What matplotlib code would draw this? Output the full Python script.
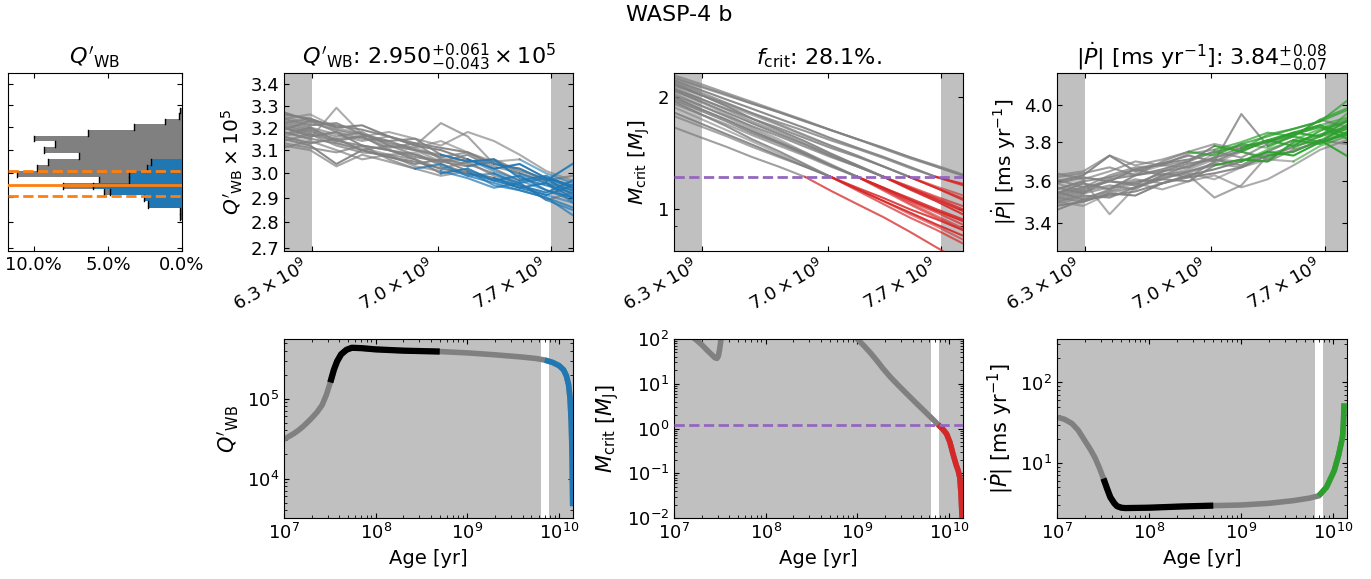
import matplotlib
matplotlib.use("Agg")
import matplotlib.pyplot as plt
from matplotlib.ticker import NullLocator, NullFormatter, PercentFormatter

plt.rcParams['font.family'] = ['DejaVu Sans']
plt.rcParams['mathtext.fontset'] = 'dejavusans'

# ------------------------------------------------------------------ data
TITLE = "WASP-4 b"

AGE_GRID = [6.15e9, 6.29e9, 6.43e9, 6.57e9, 6.72e9, 6.87e9,
            7.02e9, 7.18e9, 7.34e9, 7.50e9, 7.67e9, 7.84e9]
AGE_RANGE = (6.3e9, 7.7e9)
TOP_XTICKS = [6.3e9, 7.0e9, 7.7e9]
TOP_XTICKLABELS = [r'$6.3\times10^{9}$', r'$7.0\times10^{9}$', r'$7.7\times10^{9}$']

# index of the grid point where each sample becomes "critical" (11 = never)
CRIT_START = [5, 6, 6, 6, 7, 7, 7, 8, 8, 8, 9, 9, 10, 10, 11, 11,
              6, 7, 7, 8, 9, 11]

Q_SAMPLES = [
    [3.13, 3.11, 3.09, 3.12, 3.06, 3.02, 3.04, 2.99, 2.96, 2.93, 2.90, 2.86],
    [3.20, 3.16, 3.18, 3.12, 3.10, 3.06, 3.00, 3.02, 2.97, 2.94, 2.96, 2.90],
    [3.16, 3.19, 3.13, 3.11, 3.08, 3.09, 3.03, 2.99, 3.00, 2.95, 2.91, 2.88],
    [3.24, 3.21, 3.22, 3.17, 3.14, 3.15, 3.08, 3.05, 3.06, 2.98, 2.95, 2.92],
    [3.12, 3.10, 3.03, 3.08, 3.05, 3.02, 2.99, 3.01, 2.95, 2.93, 2.90, 2.83],
    [3.26, 3.24, 3.20, 3.21, 3.16, 3.12, 3.10, 3.06, 3.02, 3.04, 2.98, 2.95],
    [3.18, 3.15, 3.29, 3.17, 3.12, 3.10, 3.05, 3.06, 3.01, 2.97, 2.93, 2.89],
    [3.21, 3.18, 3.15, 3.16, 3.11, 3.13, 3.06, 3.04, 3.00, 2.96, 2.98, 2.91],
    [3.15, 3.12, 3.04, 3.10, 3.07, 3.05, 3.02, 3.00, 2.98, 2.94, 2.91, 2.95],
    [3.23, 3.20, 3.17, 3.14, 3.16, 3.12, 3.22, 3.16, 3.04, 3.02, 2.97, 2.93],
    [3.17, 3.20, 3.14, 3.12, 3.10, 3.07, 3.05, 3.08, 3.02, 2.97, 2.99, 2.94],
    [3.25, 3.22, 3.19, 3.17, 3.13, 3.11, 3.14, 3.09, 3.05, 3.06, 3.00, 2.96],
    [3.19, 3.23, 3.18, 3.15, 3.14, 3.10, 3.08, 3.05, 3.06, 3.01, 2.98, 2.94],
    [3.27, 3.23, 3.21, 3.19, 3.16, 3.13, 3.11, 3.09, 3.04, 3.02, 2.97, 3.04],
    [3.22, 3.24, 3.19, 3.16, 3.18, 3.15, 3.12, 3.18, 3.14, 3.08, 3.01, 2.97],
    [3.14, 3.17, 3.12, 3.09, 3.08, 3.06, 3.02, 3.05, 2.99, 2.96, 2.89, 2.92],
    [3.11, 3.14, 3.10, 3.06, 3.08, 3.03, 3.01, 2.98, 2.94, 2.96, 2.89, 2.85],
    [3.20, 3.17, 3.14, 3.16, 3.10, 3.08, 3.04, 3.00, 2.97, 2.99, 2.93, 2.90],
    [3.24, 3.26, 3.20, 3.17, 3.13, 3.11, 3.07, 3.03, 3.05, 2.99, 2.96, 2.88],
    [3.16, 3.13, 3.15, 3.10, 3.07, 3.04, 3.06, 3.01, 2.98, 2.95, 2.92, 2.97],
    [3.22, 3.19, 3.16, 3.18, 3.12, 3.10, 3.07, 3.09, 3.03, 3.00, 2.96, 2.93],
    [3.18, 3.15, 3.13, 3.10, 3.12, 3.08, 3.05, 3.03, 3.06, 3.00, 2.97, 2.99],
]

M_SAMPLES = [
    [1.66, 1.56, 1.47, 1.38, 1.30, 1.22, 1.12, 1.03, 0.95, 0.87, 0.79, 0.72],
    [1.82, 1.70, 1.59, 1.49, 1.39, 1.30, 1.22, 1.13, 1.05, 0.98, 0.91, 0.85],
    [1.88, 1.75, 1.63, 1.52, 1.41, 1.31, 1.22, 1.13, 1.05, 0.97, 0.90, 0.83],
    [1.95, 1.80, 1.67, 1.54, 1.43, 1.32, 1.22, 1.14, 1.07, 1.00, 0.94, 0.88],
    [1.92, 1.80, 1.69, 1.58, 1.48, 1.39, 1.30, 1.22, 1.13, 1.05, 0.98, 0.91],
    [2.00, 1.86, 1.74, 1.62, 1.51, 1.41, 1.31, 1.22, 1.14, 1.06, 0.99, 0.93],
    [2.05, 1.90, 1.77, 1.64, 1.52, 1.42, 1.31, 1.22, 1.12, 1.03, 0.95, 0.88],
    [2.02, 1.90, 1.78, 1.67, 1.57, 1.47, 1.38, 1.30, 1.22, 1.14, 1.07, 1.00],
    [2.08, 1.95, 1.82, 1.70, 1.59, 1.49, 1.39, 1.30, 1.22, 1.13, 1.05, 0.97],
    [2.12, 1.98, 1.85, 1.72, 1.61, 1.50, 1.40, 1.31, 1.22, 1.15, 1.08, 1.02],
    [2.10, 1.98, 1.86, 1.75, 1.65, 1.55, 1.46, 1.38, 1.30, 1.22, 1.14, 1.06],
    [2.16, 2.03, 1.90, 1.79, 1.68, 1.57, 1.48, 1.39, 1.30, 1.22, 1.15, 1.09],
    [2.15, 2.03, 1.92, 1.81, 1.71, 1.62, 1.53, 1.45, 1.37, 1.29, 1.22, 1.16],
    [2.22, 2.09, 1.97, 1.86, 1.75, 1.65, 1.55, 1.46, 1.38, 1.30, 1.22, 1.17],
    [2.24, 2.13, 2.02, 1.92, 1.82, 1.72, 1.63, 1.54, 1.46, 1.38, 1.30, 1.235],
    [2.29, 2.17, 2.05, 1.94, 1.83, 1.73, 1.63, 1.54, 1.45, 1.37, 1.30, 1.23],
    [1.78, 1.67, 1.57, 1.47, 1.38, 1.30, 1.22, 1.12, 1.03, 0.95, 0.88, 0.81],
    [1.97, 1.84, 1.72, 1.60, 1.50, 1.40, 1.31, 1.22, 1.14, 1.07, 1.00, 0.94],
    [2.10, 1.94, 1.80, 1.66, 1.54, 1.42, 1.32, 1.22, 1.13, 1.04, 0.96, 0.89],
    [2.18, 2.03, 1.89, 1.75, 1.63, 1.52, 1.41, 1.31, 1.22, 1.14, 1.06, 0.99],
    [2.20, 2.06, 1.93, 1.81, 1.69, 1.58, 1.48, 1.39, 1.30, 1.22, 1.14, 1.07],
    [2.26, 2.14, 2.03, 1.92, 1.82, 1.72, 1.63, 1.54, 1.46, 1.38, 1.31, 1.24],
]

P_SAMPLES = [
    [3.62, 3.64, 3.67, 3.63, 3.70, 3.75, 3.73, 3.79, 3.83, 3.87, 3.91, 3.97],
    [3.54, 3.59, 3.56, 3.63, 3.66, 3.70, 3.78, 3.75, 3.81, 3.85, 3.83, 3.91],
    [3.59, 3.55, 3.62, 3.64, 3.68, 3.67, 3.74, 3.79, 3.77, 3.84, 3.89, 3.93],
    [3.50, 3.53, 3.52, 3.57, 3.61, 3.60, 3.68, 3.71, 3.70, 3.80, 3.84, 3.88],
    [3.63, 3.65, 3.73, 3.68, 3.71, 3.75, 3.79, 3.76, 3.84, 3.87, 3.91, 4.02],
    [3.48, 3.50, 3.54, 3.53, 3.59, 3.63, 3.66, 3.70, 3.75, 3.73, 3.80, 3.84],
    [3.56, 3.60, 3.44, 3.57, 3.63, 3.66, 3.71, 3.70, 3.76, 3.81, 3.87, 3.92],
    [3.53, 3.56, 3.60, 3.59, 3.64, 3.62, 3.70, 3.95, 3.78, 3.83, 3.80, 3.89],
    [3.60, 3.63, 3.73, 3.65, 3.69, 3.71, 3.75, 3.78, 3.80, 3.85, 3.89, 3.84],
    [3.51, 3.54, 3.57, 3.61, 3.59, 3.63, 3.52, 3.58, 3.73, 3.75, 3.81, 3.87],
    [3.57, 3.54, 3.61, 3.63, 3.65, 3.69, 3.71, 3.68, 3.75, 3.81, 3.79, 3.85],
    [3.49, 3.52, 3.55, 3.57, 3.62, 3.64, 3.61, 3.67, 3.71, 3.70, 3.78, 3.83],
    [3.55, 3.51, 3.56, 3.60, 3.61, 3.65, 3.68, 3.71, 3.70, 3.76, 3.80, 3.85],
    [3.46, 3.51, 3.53, 3.55, 3.59, 3.62, 3.64, 3.67, 3.73, 3.75, 3.81, 3.73],
    [3.52, 3.50, 3.55, 3.59, 3.56, 3.60, 3.63, 3.57, 3.61, 3.68, 3.76, 3.81],
    [3.61, 3.57, 3.63, 3.67, 3.68, 3.70, 3.75, 3.72, 3.79, 3.83, 3.92, 3.88],
    [3.64, 3.61, 3.65, 3.70, 3.68, 3.74, 3.76, 3.80, 3.85, 3.83, 3.92, 3.98],
    [3.54, 3.57, 3.60, 3.58, 3.65, 3.67, 3.72, 3.77, 3.81, 3.78, 3.86, 3.91],
    [3.50, 3.48, 3.54, 3.57, 3.62, 3.64, 3.69, 3.75, 3.72, 3.79, 3.83, 3.95],
    [3.59, 3.62, 3.60, 3.66, 3.69, 3.73, 3.70, 3.76, 3.80, 3.84, 3.88, 3.82],
    [3.52, 3.55, 3.58, 3.56, 3.63, 3.65, 3.69, 3.67, 3.74, 3.77, 3.83, 3.87],
    [3.56, 3.60, 3.62, 3.66, 3.63, 3.68, 3.72, 3.75, 3.71, 3.78, 3.81, 3.79],
]

M_PLANET = 1.22
Q_MED, Q_HI, Q_LO = 2.950, 3.011, 2.907

HIST_EDGES = [2.8082, 2.8335, 2.8587, 2.8840, 2.9093, 2.9346, 2.9598, 2.9851,
              3.0104, 3.0356, 3.0609, 3.0862, 3.1115, 3.1367, 3.1620, 3.1873,
              3.2125, 3.2378, 3.2631, 3.2884]
HIST_ALL = [0, 0, 0, 0, 5.23, 8.06, 5.63, 11.15, 9.75, 9.01, 6.98, 9.32,
            8.60, 9.96, 6.31, 3.27, 1.17, 0.18, 0.11]
HIST_CRIT = [0.16, 0.11, 2.30, 2.59, 4.84, 6.01, 3.60, 3.60, 2.36, 2.07,
             0, 0, 0, 0, 0, 0, 0, 0, 0]

Q_BOT_AGE = [1.0e7, 1.15e7, 1.3e7, 1.45e7, 1.62e7, 1.8e7, 2.0e7, 2.3e7, 2.6e7,
             2.9e7, 3.2e7, 3.5e7, 3.8e7, 4.2e7, 4.8e7, 5.5e7, 7.0e7, 1.0e8,
             2.0e8, 5.0e8, 1.0e9, 2.0e9, 3.7e9, 5.5e9, 7.0e9, 8.5e9, 1.0e10,
             1.12e10, 1.2e10, 1.27e10, 1.32e10, 1.36e10, 1.39e10, 1.41e10]
Q_BOT_VAL = [3.1e4, 3.4e4, 3.7e4, 4.05e4, 4.5e4, 5.05e4, 5.7e4, 6.8e4, 8.3e4,
             1.12e5, 1.6e5, 2.3e5, 2.95e5, 3.6e5, 4.1e5, 4.35e5, 4.3e5, 4.15e5,
             4.0e5, 3.9e5, 3.75e5, 3.55e5, 3.35e5, 3.2e5, 3.05e5, 2.85e5, 2.6e5,
             2.3e5, 1.95e5, 1.5e5, 1.0e5, 5.0e4, 1.8e4, 4.5e3]

M_BOT_AGE1 = [1.5e7, 1.7e7, 2.0e7, 2.3e7, 2.6e7, 2.8e7, 2.95e7, 3.05e7, 3.15e7, 3.25e7, 3.35e7]
M_BOT_VAL1 = [120, 100, 75, 56, 44, 38, 37, 42, 60, 95, 140]
M_BOT_AGE2 = [8.5e8, 1.0e9, 1.2e9, 1.4e9, 1.65e9, 1.9e9, 2.3e9, 2.8e9, 3.45e9,
              4.5e9, 5.5e9, 6.2e9, 7.0e9, 7.6e9, 8.5e9, 9.4e9, 1.02e10, 1.11e10,
              1.2e10, 1.26e10, 1.31e10, 1.35e10, 1.38e10, 1.40e10]
M_BOT_VAL2 = [140, 100, 68, 48, 32, 22, 14, 9.2, 6.0, 3.5, 2.35, 1.85, 1.45,
              1.22, 0.98, 0.76, 0.50, 0.26, 0.15, 0.114, 0.08, 0.035, 0.013, 0.006]

P_BOT_AGE = [1.0e7, 1.2e7, 1.45e7, 1.7e7, 2.0e7, 2.3e7, 2.6e7, 2.9e7, 3.2e7,
             3.5e7, 3.8e7, 4.2e7, 4.5e7, 5.0e7, 5.5e7, 1.0e8, 2.3e8, 5.0e8,
             1.0e9, 2.0e9, 3.7e9, 5.5e9, 7.0e9, 8.5e9, 1.03e10, 1.15e10,
             1.27e10, 1.30e10, 1.32e10]
P_BOT_VAL = [37, 35, 31, 25.5, 19, 14.8, 11.5, 8.6, 6.4, 4.8, 3.75, 3.15, 2.9,
             2.78, 2.75, 2.78, 2.88, 2.95, 3.0, 3.15, 3.4, 3.65, 3.9, 5.0, 8.0,
             12.5, 21, 32, 55]

BLACK_AGES = (3.2e7, 5.0e8)
CRIT_AGE_QP = 7.0e9
CRIT_AGE_M = 7.6e9

# ------------------------------------------------------------------ style / layout
XLIM_TOP = (6.153e9, 7.844e9)
XLIM_BOT = (1e7, 1.42e10)
ALPHAS = [0.75, 0.9, 0.6, 0.85, 0.7, 0.95, 0.65, 0.8, 0.9, 0.7, 0.85, 0.6,
          0.8, 0.9, 0.65, 0.75, 0.7, 0.85, 0.6, 0.9, 0.75, 0.8]
BAND = 'silver'
TICK_FS = 13
TITLE_FS = 16
TOP_YLABEL_FS = 14.5
BOT_LABEL_FS = 15

W, H = 1371, 579
fig = plt.figure(figsize=(W / 100, H / 100), dpi=100)


def px_rect(x0, y0, x1, y1):
    return [x0 / W, 1 - y1 / H, (x1 - x0) / W, (y1 - y0) / H]


def style(ax):
    ax.tick_params(which='both', direction='in', top=True, right=True,
                   labelsize=TICK_FS)


def top_panel(ax, samples, color, ylim, yticks, yticklabels, ylabel, title):
    ax.set_xscale('log')
    ax.set_yscale('log')
    ax.axvspan(XLIM_TOP[0], AGE_RANGE[0], color=BAND, lw=0, zorder=0)
    ax.axvspan(AGE_RANGE[1], XLIM_TOP[1], color=BAND, lw=0, zorder=0)
    n = len(AGE_GRID)
    for vals, s, a in zip(samples, CRIT_START, ALPHAS):
        ax.plot(AGE_GRID[:s + 1], vals[:s + 1], color='gray', alpha=a, lw=1.5, zorder=2)
    for vals, s, a in zip(samples, CRIT_START, ALPHAS):
        if s < n - 1:
            ax.plot(AGE_GRID[s:], vals[s:], color=color, alpha=a, lw=1.5, zorder=3)
    ax.set_xlim(XLIM_TOP)
    ax.set_ylim(ylim)
    ax.set_xticks(TOP_XTICKS, TOP_XTICKLABELS)
    ax.xaxis.set_minor_locator(NullLocator())
    ax.set_yticks(yticks, yticklabels)
    ax.yaxis.set_minor_locator(NullLocator())
    ax.yaxis.set_minor_formatter(NullFormatter())
    plt.setp(ax.get_xticklabels(), rotation=30, ha='right')
    ax.set_ylabel(ylabel, fontsize=TOP_YLABEL_FS)
    ax.set_title(title, fontsize=TITLE_FS)
    style(ax)


def sel(ages, vals, lo, hi):
    xs = [a for a in ages if lo <= a <= hi]
    ys = [v for a, v in zip(ages, vals) if lo <= a <= hi]
    return xs, ys


def bottom_panel(ax, ylim, ylabel):
    ax.set_xscale('log')
    ax.set_yscale('log')
    ax.axvspan(XLIM_BOT[0], AGE_RANGE[0], color=BAND, lw=0, zorder=0)
    ax.axvspan(AGE_RANGE[1], XLIM_BOT[1], color=BAND, lw=0, zorder=0)
    ax.set_xlim(XLIM_BOT)
    ax.set_ylim(ylim)
    ax.set_xlabel('Age [yr]', fontsize=14)
    ax.set_ylabel(ylabel, fontsize=BOT_LABEL_FS)
    style(ax)


# ---------------- top row
Q_TICKS = [2.7, 2.8, 2.9, 3.0, 3.1, 3.2, 3.3, 3.4]
ax_q = fig.add_axes(px_rect(284, 73, 573, 251))
top_panel(ax_q, Q_SAMPLES, 'C0', (2.69, 3.455), Q_TICKS,
          [f'{t:.1f}' for t in Q_TICKS],
          r"$Q'_{\rm WB}\times10^5$",
          r"$Q'_{\rm WB}$: $2.950^{+0.061}_{-0.043}\times10^5$")

ax_m = fig.add_axes(px_rect(674, 73, 963, 251))
top_panel(ax_m, M_SAMPLES, 'C3', (0.772, 2.32), [1, 2], ['1', '2'],
          r"$M_{\rm crit}$ [$M_{\rm J}$]", r"$f_{\rm crit}$: 28.1%.")
ax_m.axhline(M_PLANET, color='C4', ls='--', lw=2, zorder=4)
ax_m.set_yticks([0.9], minor=True)
ax_m.yaxis.set_minor_formatter(NullFormatter())

P_TICKS = [3.4, 3.6, 3.8, 4.0]
ax_p = fig.add_axes(px_rect(1057, 73, 1347, 251))
top_panel(ax_p, P_SAMPLES, 'C2', (3.27, 4.18), P_TICKS,
          [f'{t:.1f}' for t in P_TICKS],
          r"$|\dot{P}|$ [ms yr$^{-1}$]",
          r"$|\dot{P}|$ [ms yr$^{-1}$]: $3.84^{+0.08}_{-0.07}$")

# ---------------- histogram
ax_h = fig.add_axes(px_rect(8, 72.5, 182, 251), sharey=ax_q)
heights = [b - a for a, b in zip(HIST_EDGES[:-1], HIST_EDGES[1:])]
ax_h.barh(HIST_EDGES[:-1], HIST_ALL, height=heights, align='edge',
          color='gray', lw=0, zorder=2)
ax_h.barh(HIST_EDGES[:-1], HIST_CRIT, height=heights, align='edge',
          color='C0', lw=0, zorder=3)
for vals, z in ((HIST_ALL, 2.5), (HIST_CRIT, 3.5)):
    for v, a, b in zip(vals, HIST_EDGES[:-1], HIST_EDGES[1:]):
        if v > 0:
            ax_h.plot([v, v], [a, b], color='k', lw=1.0, zorder=z)
ax_h.axhline(Q_MED, color='C1', lw=2, zorder=5)
ax_h.axhline(Q_HI, color='C1', lw=2, ls='--', zorder=5)
ax_h.axhline(Q_LO, color='C1', lw=2, ls='--', zorder=5)
ax_h.set_xlim(11.74, 0)
ax_h.set_xticks([10, 5, 0])
ax_h.xaxis.set_major_formatter(PercentFormatter(100, decimals=1))
ax_h.set_title(r"$Q'_{\rm WB}$", fontsize=TITLE_FS)
style(ax_h)
ax_h.tick_params(labelleft=False)

# ---------------- bottom row
LW_B = 4
ax_qb = fig.add_axes(px_rect(284, 339, 573, 518))
bottom_panel(ax_qb, (3.2e3, 5.6e5), r"$Q'_{\rm WB}$")
ax_qb.plot(Q_BOT_AGE, Q_BOT_VAL, color='gray', lw=LW_B, solid_capstyle='butt',
           solid_joinstyle='round', zorder=2)
ax_qb.plot(*sel(Q_BOT_AGE, Q_BOT_VAL, *BLACK_AGES), color='k', lw=LW_B + 0.5,
           solid_capstyle='butt', solid_joinstyle='round', zorder=3)
ax_qb.plot(*sel(Q_BOT_AGE, Q_BOT_VAL, CRIT_AGE_QP, 1e11), color='C0', lw=LW_B,
           solid_capstyle='butt', solid_joinstyle='round', zorder=3)

ax_mb = fig.add_axes(px_rect(674, 339, 963, 518))
bottom_panel(ax_mb, (1e-2, 1e2), r"$M_{\rm crit}$ [$M_{\rm J}$]")
ax_mb.plot(M_BOT_AGE1, M_BOT_VAL1, color='gray', lw=LW_B, solid_joinstyle='round', zorder=2)
ax_mb.plot(M_BOT_AGE2, M_BOT_VAL2, color='gray', lw=LW_B, solid_joinstyle='round', zorder=2)
ax_mb.plot(*sel(M_BOT_AGE2, M_BOT_VAL2, CRIT_AGE_M, 1e11), color='C3', lw=LW_B,
           solid_capstyle='butt', solid_joinstyle='round', zorder=3)
ax_mb.axhline(M_PLANET, color='C4', ls='--', lw=2, zorder=4)

ax_pb = fig.add_axes(px_rect(1057, 339, 1347, 518))
bottom_panel(ax_pb, (2.07, 347), r"$|\dot{P}|$ [ms yr$^{-1}$]")
ax_pb.plot(P_BOT_AGE, P_BOT_VAL, color='gray', lw=LW_B, solid_capstyle='butt',
           solid_joinstyle='round', zorder=2)
ax_pb.plot(*sel(P_BOT_AGE, P_BOT_VAL, *BLACK_AGES), color='k', lw=LW_B + 0.5,
           solid_capstyle='butt', solid_joinstyle='round', zorder=3)
ax_pb.plot(*sel(P_BOT_AGE, P_BOT_VAL, CRIT_AGE_QP, 1e11), color='C2', lw=LW_B,
           solid_capstyle='butt', solid_joinstyle='round', zorder=3)

fig.text(0.4956, 1 - 15 / H, TITLE, ha='center', va='center', fontsize=16)

fig.savefig('out.png', dpi=100)
